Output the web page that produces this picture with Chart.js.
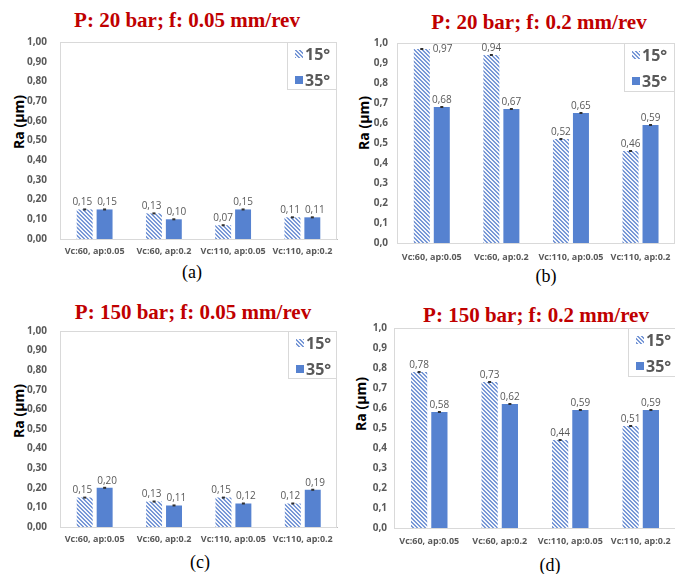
<!DOCTYPE html>
<html>
<head>
<meta charset="utf-8">
<script src="https://cdn.jsdelivr.net/npm/chart.js@4"></script>
<style>
  body { margin: 0; width: 675px; height: 574px; overflow: hidden; background: #fff; position: relative; }
  .title { position: absolute; font: bold 21px "Liberation Serif", serif; color: #C00000; white-space: nowrap; transform: translateX(-50%); line-height: 22px; }
  .sub { position: absolute; font: 18px "Liberation Serif", serif; color: #000; transform: translateX(-50%); line-height: 20px; }
  .ylab { position: absolute; font: bold 14px "Open Sans", sans-serif; color: #000; white-space: nowrap; transform: translate(-50%, -50%) rotate(-90deg); }
  canvas { position: absolute; }
</style>
</head>
<body>

<div class="title" style="left:187px;top:9px">P: 20 bar; f: 0.05 mm/rev</div>
<div class="title" style="left:539px;top:11px">P: 20 bar; f: 0.2 mm/rev</div>
<div class="title" style="left:193px;top:301px">P: 150 bar; f: 0.05 mm/rev</div>
<div class="title" style="left:536px;top:304px">P: 150 bar; f: 0.2 mm/rev</div>

<div class="ylab" style="left:18px;top:122px">Ra (µm)</div>
<div class="ylab" style="left:363px;top:123px">Ra (µm)</div>
<div class="ylab" style="left:18px;top:411px">Ra (µm)</div>
<div class="ylab" style="left:360px;top:404px">Ra (µm)</div>

<div class="sub" style="left:192px;top:262px">(a)</div>
<div class="sub" style="left:546px;top:266px">(b)</div>
<div class="sub" style="left:200px;top:552px">(c)</div>
<div class="sub" style="left:550px;top:555px">(d)</div>

<canvas id="chartA" width="340" height="240" style="left:0px;top:23px"></canvas>
<canvas id="chartB" width="340" height="239" style="left:340px;top:28px"></canvas>
<canvas id="chartC" width="340" height="239" style="left:0px;top:312px"></canvas>
<canvas id="chartD" width="340" height="239" style="left:340px;top:315px"></canvas>

<script>
// categories shared by all four panels
const categories = ['Vc:60, ap:0.05', 'Vc:60, ap:0.2', 'Vc:110, ap:0.05', 'Vc:110, ap:0.2'];
const seriesNames = ['15°', '35°'];

// (a) P: 20 bar; f: 0.05 mm/rev
const ra15_a = [0.15, 0.13, 0.07, 0.11];
const ra35_a = [0.15, 0.10, 0.15, 0.11];
// (b) P: 20 bar; f: 0.2 mm/rev
const ra15_b = [0.97, 0.94, 0.52, 0.46];
const ra35_b = [0.68, 0.67, 0.65, 0.59];
// (c) P: 150 bar; f: 0.05 mm/rev
const ra15_c = [0.15, 0.13, 0.15, 0.12];
const ra35_c = [0.20, 0.11, 0.12, 0.19];
// (d) P: 150 bar; f: 0.2 mm/rev
const ra15_d = [0.78, 0.73, 0.44, 0.51];
const ra35_d = [0.58, 0.62, 0.59, 0.59];

const yMin = 0;
const yMax = 1;
const yStep = 0.1;

const solidBlue = '#5682D0';
const grey = '#595959';

// diagonal hatch for the 15° series
function makeHatch() {
  const c = document.createElement('canvas');
  c.width = 4; c.height = 4;
  const g = c.getContext('2d');
  const img = g.createImageData(4, 4);
  for (let y = 0; y < 4; y++) {
    for (let x = 0; x < 4; x++) {
      const i = (y * 4 + x) * 4;
      const on = ((x - y + 4) % 4) < 2;
      img.data[i] = on ? 0x78 : 0xF4;
      img.data[i + 1] = on ? 0x98 : 0xF7;
      img.data[i + 2] = on ? 0xD6 : 0xFD;
      img.data[i + 3] = 255;
    }
  }
  g.putImageData(img, 0, 0);
  return g.createPattern(c, 'repeat');
}
const hatch = makeHatch();

// plot frame
const plotFrame = {
  id: 'plotFrame',
  beforeDatasetsDraw(chart) {
    const { ctx, chartArea: a } = chart;
    ctx.save();
    ctx.strokeStyle = '#D9D9D9';
    ctx.lineWidth = 1;
    ctx.strokeRect(Math.round(a.left) + 0.5, Math.round(a.top) + 0.5, Math.round(a.right - a.left) - 1, Math.round(a.bottom - a.top));
    ctx.restore();
  }
};

// value labels + tiny error caps; labels of one group are pushed apart if they touch
const valueLabels = {
  id: 'valueLabels',
  afterDatasetsDraw(chart) {
    const { ctx, chartArea } = chart;
    ctx.save();
    ctx.font = '10px "Open Sans", sans-serif';
    const metas = chart.data.datasets.map((ds, di) => chart.getDatasetMeta(di).data);
    categories.forEach((cat, i) => {
      const items = chart.data.datasets.map((ds, di) => {
        const bar = metas[di][i];
        const txt = ds.data[i].toFixed(2).replace('.', ',');
        return { bar, txt, w: ctx.measureText(txt).width, cx: bar.x };
      });
      const a = items[0], b = items[1];
      const gap = (b.cx - b.w / 2) - (a.cx + a.w / 2);
      if (gap < 5 && Math.abs(a.bar.y - b.bar.y) < 14) {
        const push = (5 - gap) / 2;
        a.cx -= push; b.cx += push;
      }
      items.forEach(it => {
        const bar = it.bar;
        ctx.fillStyle = '#303030';
        ctx.fillRect(bar.x - 1.5, bar.y - 1, 3, 2);
        ctx.fillStyle = grey;
        if (bar.y - 11 < chartArea.top) {
          ctx.textAlign = 'left';
          ctx.textBaseline = 'middle';
          ctx.fillText(it.txt, bar.x + bar.width / 2 + 3, bar.y);
        } else {
          ctx.textAlign = 'center';
          ctx.textBaseline = 'bottom';
          ctx.fillText(it.txt, it.cx, bar.y - 2);
        }
      });
    });
    ctx.restore();
  }
};

// boxed legend in the top right corner of the plot
const boxLegend = {
  id: 'boxLegend',
  afterDraw(chart, args, opts) {
    const { ctx, chartArea } = chart;
    const w = opts.width, h = opts.height;
    const x = Math.round(chartArea.right) - w, y = Math.round(chartArea.top);
    ctx.save();
    ctx.fillStyle = '#fff';
    ctx.fillRect(x, y, w, h);
    ctx.strokeStyle = '#D9D9D9';
    ctx.lineWidth = 1;
    ctx.strokeRect(x + 0.5, y + 0.5, w - 1, h - 1);
    ctx.font = 'bold 16px "Open Sans", sans-serif';
    ctx.textBaseline = 'middle';
    ctx.textAlign = 'left';
    chart.data.datasets.forEach((ds, i) => {
      const cy = y + 12 + i * 26;
      ctx.fillStyle = ds.backgroundColor;
      ctx.fillRect(x + 8, cy - 4, 8, 8);
      ctx.fillStyle = grey;
      ctx.fillText(ds.label, x + 18, cy + 1);
    });
    ctx.restore();
  }
};

function makeChart(id, ra15, ra35, opt) {
  return new Chart(document.getElementById(id), {
    type: 'bar',
    data: {
      labels: categories,
      datasets: [
        { label: seriesNames[0], data: ra15, backgroundColor: hatch },
        { label: seriesNames[1], data: ra35, backgroundColor: solidBlue }
      ]
    },
    options: {
      responsive: false,
      animation: false,
      categoryPercentage: 0.575,
      barPercentage: 0.8,
      layout: { padding: { top: 0, right: opt.padRight, left: 0, bottom: 0 } },
      scales: {
        x: {
          grid: { display: false, drawTicks: false },
          border: { color: '#BFBFBF' },
          ticks: {
            color: grey,
            font: { family: 'Open Sans', size: 9, weight: 'bold' },
            padding: opt.xPad,
            maxRotation: 0,
            autoSkip: false
          },
          afterFit(s) { s.height = opt.xHeight; }
        },
        y: {
          min: yMin,
          max: yMax,
          grid: { display: false, drawTicks: false },
          border: { display: false },
          ticks: {
            stepSize: yStep,
            color: grey,
            font: { family: 'Open Sans', size: 10, weight: 'bold' },
            padding: opt.yPad,
            callback: v => v.toFixed(opt.decimals).replace('.', ',')
          },
          afterFit(s) { s.width = opt.yWidth; }
        }
      },
      plugins: {
        legend: { display: false },
        tooltip: { enabled: false },
        boxLegend: { width: opt.legendW, height: opt.legendH }
      }
    },
    plugins: [plotFrame, valueLabels, boxLegend]
  });
}

makeChart('chartA', ra15_a, ra35_a, { decimals: 2, yWidth: 60, yPad: 13, padRight: 3, xPad: 7, xHeight: 24, legendW: 50, legendH: 48 });
makeChart('chartB', ra15_b, ra35_b, { decimals: 1, yWidth: 57, yPad: 9, padRight: 4, xPad: 9, xHeight: 24, legendW: 51, legendH: 49 });
makeChart('chartC', ra15_c, ra35_c, { decimals: 2, yWidth: 60, yPad: 13, padRight: 2, xPad: 7, xHeight: 24, legendW: 49, legendH: 48 });
makeChart('chartD', ra15_d, ra35_d, { decimals: 1, yWidth: 54, yPad: 7, padRight: 4, xPad: 8, xHeight: 26, legendW: 48, legendH: 49 });
</script>
</body>
</html>
